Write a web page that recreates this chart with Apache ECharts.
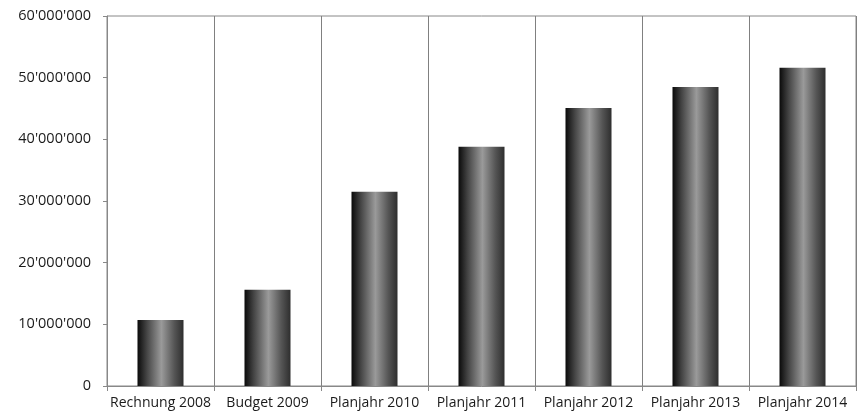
<!DOCTYPE html>
<html><head><meta charset="utf-8">
<script src="https://cdn.jsdelivr.net/npm/echarts@6/dist/echarts.min.js"></script>
<style>html,body{margin:0;padding:0;background:#fff}#c{width:867px;height:415px}</style>
</head><body><div id="c"></div>
<script>
const categories = ['Rechnung 2008','Budget 2009','Planjahr 2010','Planjahr 2011','Planjahr 2012','Planjahr 2013','Planjahr 2014'];
const values = [10700000, 15600000, 31500000, 38800000, 45100000, 48500000, 51600000];
const yTicks = [0, 10000000, 20000000, 30000000, 40000000, 50000000, 60000000];

function fmt(v){ return String(v).replace(/\B(?=(\d{3})+(?!\d))/g, "'"); }

const chart = echarts.init(document.getElementById('c'), null, {renderer:'canvas'});
const font = '"Open Sans", "Noto Sans", sans-serif';
chart.setOption({
  animation:false,
  grid:{left:107, right:11, top:16, bottom:29, show:true, borderColor:'#888', borderWidth:1, backgroundColor:'transparent'},
  xAxis:{type:'category', data:categories,
    axisLine:{lineStyle:{color:'#888'}},
    axisTick:{show:true, alignWithLabel:false, length:5, lineStyle:{color:'#888'}},
    splitLine:{show:true, lineStyle:{color:'#808080', width:1}},
    axisLabel:{color:'#1a1a1a', fontSize:14, fontWeight:500, fontFamily:font, margin:10, interval:0}},
  yAxis:{type:'value', min:yTicks[0], max:yTicks[yTicks.length-1], interval:yTicks[1]-yTicks[0],
    axisLine:{show:true, lineStyle:{color:'#888'}},
    axisTick:{show:true, length:4, lineStyle:{color:'#888'}},
    splitLine:{show:false},
    axisLabel:{color:'#1a1a1a', fontSize:14.5, fontWeight:500, fontFamily:font, margin:16, formatter:fmt}},
  series:[{type:'bar', data:values, barWidth:'43%',
    itemStyle:{color:new echarts.graphic.LinearGradient(0,0,1,0,[
      {offset:0,color:'#0a0a0a'},{offset:0.2,color:'#444'},{offset:0.52,color:'#9a9a9a'},{offset:0.8,color:'#555'},{offset:1,color:'#2e2e2e'}])}}]
});
</script></body></html>
